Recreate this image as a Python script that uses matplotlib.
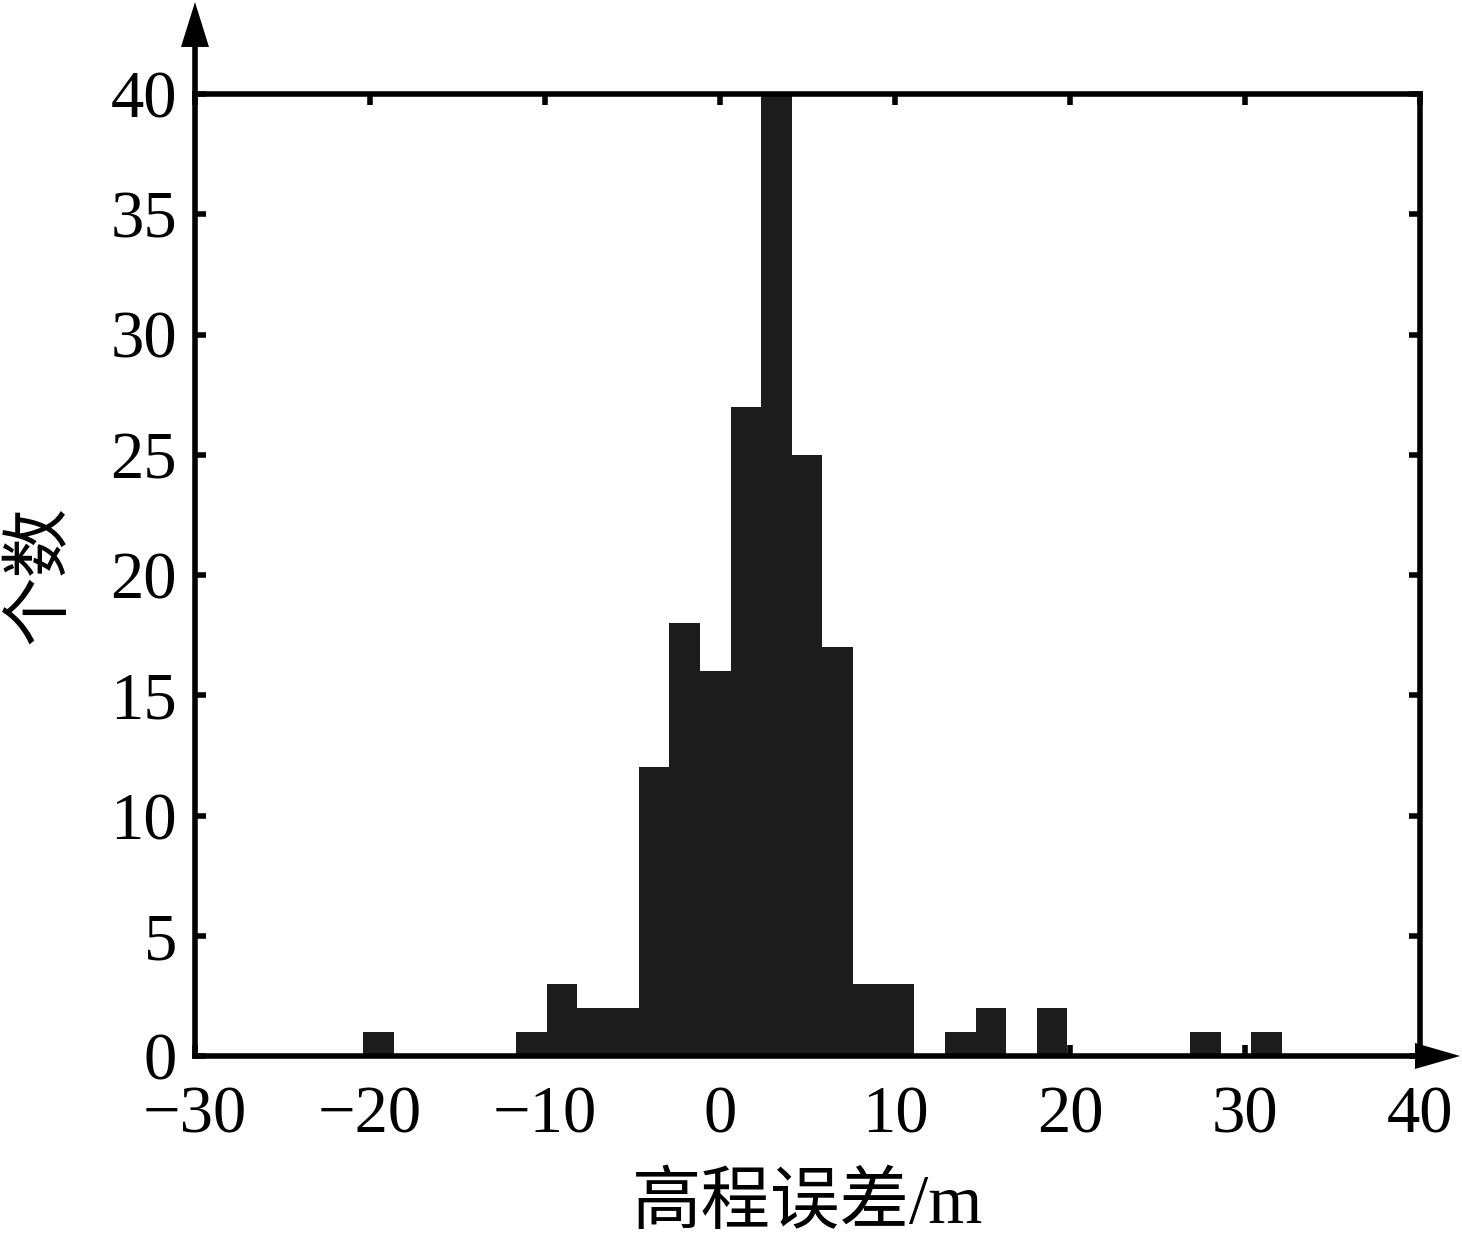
import numpy as np
import matplotlib
matplotlib.use("Agg")
import matplotlib.pyplot as plt
from matplotlib.patches import Polygon
from matplotlib.lines import Line2D

# ---- data ----
bin_start = -20.4
bin_width = 1.75
counts = [1, 0, 0, 0, 0, 1, 3, 2, 2, 12, 18, 16, 27, 40, 25, 17, 3, 3,
          0, 1, 2, 0, 2, 0, 0, 0, 0, 1, 0, 1]
x_ticks = [-30, -20, -10, 0, 10, 20, 30, 40]
y_ticks = [0, 5, 10, 15, 20, 25, 30, 35, 40]
x_label = "高程误差/m"
y_label = "个数"

edges = bin_start + bin_width * np.arange(len(counts) + 1)

plt.rcParams['font.family'] = ['Liberation Serif', 'Noto Sans CJK SC']
plt.rcParams['axes.unicode_minus'] = True

fig = plt.figure(figsize=(14.62, 12.40), dpi=100)
ax = fig.add_axes([195/1462, 1 - 1056/1240, (1420-195)/1462, (1056-94)/1240])

ax.bar(edges[:-1], counts, width=bin_width, align='edge', color='#1c1c1c',
       edgecolor='none', linewidth=0, zorder=2)

ax.set_xlim(-30, 40)
ax.set_ylim(0, 40)
ax.set_xticks(x_ticks)
ax.set_yticks(y_ticks)

lw = 4.0
for s in ax.spines.values():
    s.set_linewidth(lw)
    s.set_color('black')

ax.tick_params(axis='both', direction='in', length=8, width=4.0, color='black',
               labelsize=48, top=True, right=True)
ax.tick_params(axis='x', pad=21)
ax.tick_params(axis='y', pad=13)

ax.set_xlabel(x_label, fontsize=50, labelpad=20,
              family=['Liberation Serif', 'Noto Sans CJK SC'])
ax.set_ylabel(y_label, fontsize=50, labelpad=26,
              family=['Noto Sans CJK SC', 'Liberation Serif'])

# arrows
W = 1420 - 195
H = 1056 - 94
# y-axis arrow
ax.add_line(Line2D([0, 0], [1.0, 1.05], transform=ax.transAxes, color='black',
                   lw=lw, clip_on=False, solid_capstyle='butt'))
hw = 14 / W
ax.add_patch(Polygon([[-hw, 1.0489], [hw, 1.0489], [0, 1.0956]], closed=True,
                     transform=ax.transAxes, color='black', clip_on=False, lw=0))
# x-axis arrow
ax.add_line(Line2D([1.0, 1.0], [0, 0], transform=ax.transAxes, color='black',
                   lw=lw, clip_on=False))
hh = 13 / H
ax.add_patch(Polygon([[0.9959, -hh], [0.9959, hh], [1.0327, 0]], closed=True,
                     transform=ax.transAxes, color='black', clip_on=False, lw=0))

fig.savefig("out.png", dpi=100)
